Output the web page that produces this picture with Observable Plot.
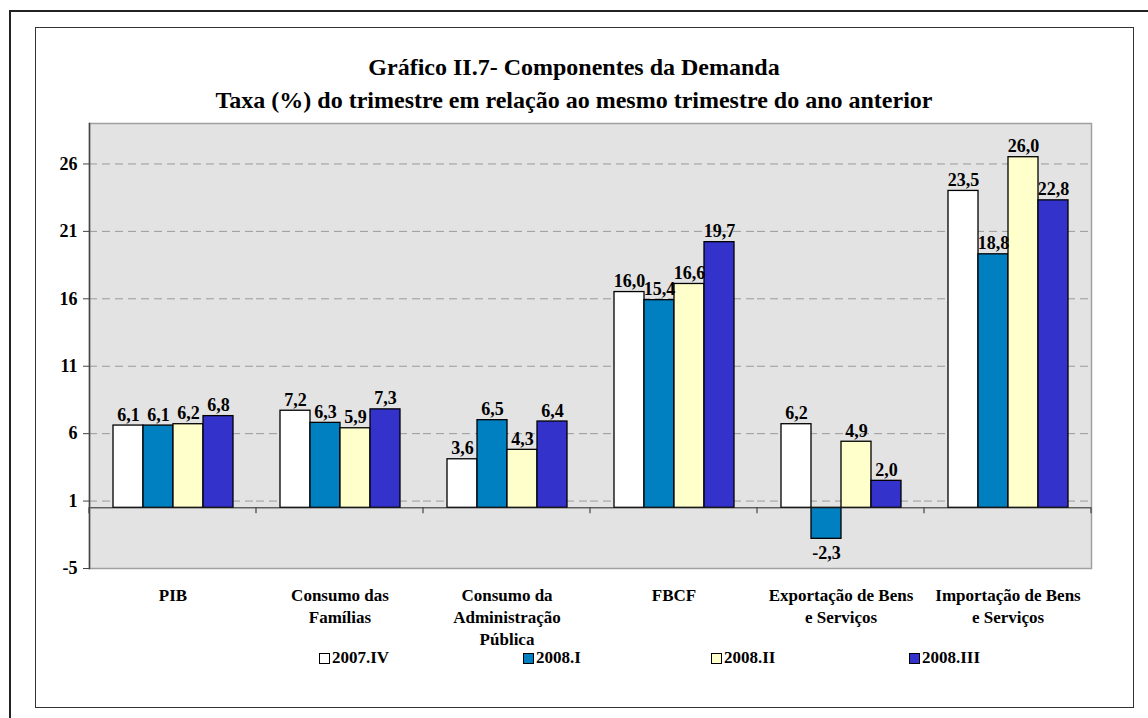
<!DOCTYPE html>
<html>
<head>
<meta charset="utf-8">
<script src="https://cdn.jsdelivr.net/npm/d3@7"></script>
<script src="https://cdn.jsdelivr.net/npm/@observablehq/plot@0.6"></script>
<style>
  html, body { margin: 0; padding: 0; background: #fff; width: 1148px; height: 718px; overflow: hidden; }
  body { position: relative; font-family: "Liberation Serif", "Times New Roman", serif; }
  #outer { position: absolute; left: 9px; top: 10px; width: 1300px; height: 900px; border-left: 2px solid #222; border-top: 2px solid #222; box-sizing: border-box; }
  #inner { position: absolute; left: 35px; top: 27px; width: 1099px; height: 681px; border: 1.5px solid #333; box-sizing: border-box; }
  #title { position: absolute; left: 0; top: 51px; width: 1148px; text-align: center; font-weight: bold; font-size: 24px; line-height: 33px; color: #000; }
  #chart { position: absolute; left: 0; top: 110px; }
  #chart svg, #chart svg text { font-family: "Liberation Serif", "Times New Roman", serif !important; font-weight: bold; }
  #legend { position: absolute; top: 648px; left: 319px; display: flex; font-weight: bold; font-size: 17px; line-height: 20px; color: #000; }
  .item { display: flex; align-items: center; }
  .sw { width: 9px; height: 9px; border: 1px solid #000; margin-right: 2px; box-sizing: content-box; }
</style>
</head>
<body>
<div id="outer"></div>
<div id="inner"></div>
<div id="title">Gráfico II.7- Componentes da Demanda<br>Taxa (%) do trimestre em relação ao mesmo trimestre do ano anterior</div>
<div id="chart"></div>
<div id="legend"></div>
<script>
const categories = ["PIB", "Consumo das Famílias", "Consumo da Administração Pública", "FBCF", "Exportação de Bens e Serviços", "Importação de Bens e Serviços"];
const categoryLabels = ["PIB", "Consumo das\nFamílias", "Consumo da\nAdministração\nPública", "FBCF", "Exportação de Bens\ne Serviços", "Importação de Bens\ne Serviços"];
const series = ["2007.IV", "2008.I", "2008.II", "2008.III"];
const values2007IV = [6.1, 7.2, 3.6, 16.0, 6.2, 23.5];
const values2008I = [6.1, 6.3, 6.5, 15.4, -2.3, 18.8];
const values2008II = [6.2, 5.9, 4.3, 16.6, 4.9, 26.0];
const values2008III = [6.8, 7.3, 6.4, 19.7, 2.0, 22.8];
const yTicks = [-4.5, 0.5, 5.5, 10.5, 15.5, 20.5, 25.5];
const yTickLabels = ["-5", "1", "6", "11", "16", "21", "26"];
const yDomain = [-4.5, 28.5];
const colors = ["#ffffff", "#0080c0", "#ffffcc", "#3333cc"];

const seriesValues = [values2007IV, values2008I, values2008II, values2008III];
const data = [];
categories.forEach((c, i) => series.forEach((s, j) => data.push({category: c, series: s, value: seriesValues[j][i]})));
const fmt = v => v.toFixed(1).replace(".", ",");
const font = "'Liberation Serif', 'Times New Roman', serif";

const plot = Plot.plot({
  width: 1148,
  height: 545,
  marginLeft: 87,
  marginRight: 56,
  marginTop: 13,
  marginBottom: 87,
  style: {fontFamily: font, fontWeight: "bold", color: "#000", background: "transparent"},
  fx: {domain: categories, padding: 0, label: null},
  x: {domain: series, paddingInner: 0, paddingOuter: 0.75, axis: null},
  y: {domain: yDomain, label: null},
  color: {domain: series, range: colors},
  marks: [
    Plot.frame({facet: "super", fill: "#e3e3e3", stroke: null}),
    Plot.ruleY(yTicks.slice(1), {stroke: "#9a9a9a", strokeDasharray: "8,5", strokeWidth: 1}),
    Plot.barY(data, {fx: "category", x: "series", y: "value", fill: "series", stroke: "#000", strokeWidth: 1.3}),
    Plot.ruleY([0], {stroke: "#222", strokeWidth: 1}),
    Plot.text(data.filter(d => d.value >= 0), {fx: "category", x: "series", y: "value", text: d => fmt(d.value), lineAnchor: "bottom", dy: -5, fontSize: 18, fontFamily: font, fontWeight: "bold", fill: "#000"}),
    Plot.text(data.filter(d => d.value < 0), {fx: "category", x: "series", y: "value", text: d => fmt(d.value), lineAnchor: "top", dy: 7, fontSize: 18, fontFamily: font, fontWeight: "bold", fill: "#000"}),
    Plot.frame({facet: "super", stroke: "#a0a0a0", strokeWidth: 1.5}),
    Plot.frame({facet: "super", anchor: "left", stroke: "#444", strokeWidth: 1.5}),
    Plot.axisY({ticks: yTicks, tickFormat: d => yTickLabels[yTicks.indexOf(d)], tickSize: 6, tickPadding: 6, fontSize: 18, fontFamily: font, fontWeight: "bold", stroke: "#444", label: null}),
    Plot.axisFx({anchor: "bottom", tickSize: 0, tickPadding: 17, tickFormat: d => categoryLabels[categories.indexOf(d)], fontSize: 17, fontFamily: font, fontWeight: "bold", lineHeight: 1.29, label: null})
  ]
});

// category-boundary tick marks below the baseline, positioned by Plot's own scales
const fxs = plot.scale("fx");
const ys = plot.scale("y");
const y0 = ys.apply(0);
const bounds = categories.map(c => fxs.apply(c)).concat([fxs.apply(categories[categories.length - 1]) + fxs.bandwidth]);
d3.select(plot).append("g").selectAll("line").data(bounds).join("line")
  .attr("x1", d => d).attr("x2", d => d).attr("y1", y0).attr("y2", y0 + 6)
  .attr("stroke", "#444").attr("stroke-width", 1.2);

document.getElementById("chart").appendChild(plot);

const legendItemWidths = [204, 188, 198, 120];
const legend = d3.select("#legend");
series.forEach((s, i) => {
  const it = legend.append("div").attr("class", "item").style("width", legendItemWidths[i] + "px");
  it.append("div").attr("class", "sw").style("background", colors[i]);
  it.append("span").text(s);
});
</script>
</body>
</html>
